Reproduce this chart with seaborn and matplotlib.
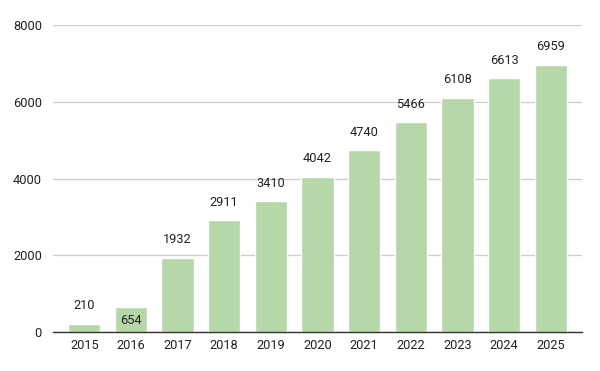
import matplotlib
matplotlib.use("Agg")
import matplotlib.pyplot as plt
import pandas as pd
import seaborn as sns

years = ["2015", "2016", "2017", "2018", "2019", "2020", "2021", "2022", "2023", "2024", "2025"]
counts = [210, 654, 1932, 2911, 3410, 4042, 4740, 5466, 6108, 6613, 6959]

df = pd.DataFrame({"year": years, "count": counts})

sns.set_theme(style="white")
plt.rcParams["font.family"] = ["Roboto", "DejaVu Sans"]

fig = plt.figure(figsize=(6, 3.71), dpi=100)
ax = fig.add_axes([53 / 600, 1 - 332 / 371, 529 / 600, 307 / 371])

sns.barplot(data=df, x="year", y="count", color="#b6d7a8", saturation=1,
            width=0.69, ax=ax, zorder=3)

ax.set_ylim(0, 8000)
ax.set_xlim(-0.67, 10.67)
ax.set_yticks([0, 2000, 4000, 6000, 8000])
ax.yaxis.grid(True, color="#cccccc", linewidth=0.9, zorder=0)
ax.set_axisbelow(True)
for s in ["left", "right", "top"]:
    ax.spines[s].set_visible(False)
ax.spines["bottom"].set_color("#333333")
ax.spines["bottom"].set_linewidth(1.0)
ax.spines["bottom"].set_zorder(4)
ax.tick_params(axis="both", length=0, labelsize=9.2, colors="#222222")
ax.tick_params(axis="y", pad=8)
ax.tick_params(axis="x", pad=5)
ax.set_xlabel("")
ax.set_ylabel("")

# labels sit above the bars, except 654 which the original drew inside its bar
for i, v in enumerate(counts):
    dy = -9.5 if v == 654 else 13
    ax.annotate(str(v), (i, v), xytext=(0, dy), textcoords="offset points",
                ha="center", va="center", fontsize=9.2, color="#222222", zorder=5)

fig.savefig("out.png", dpi=100)
